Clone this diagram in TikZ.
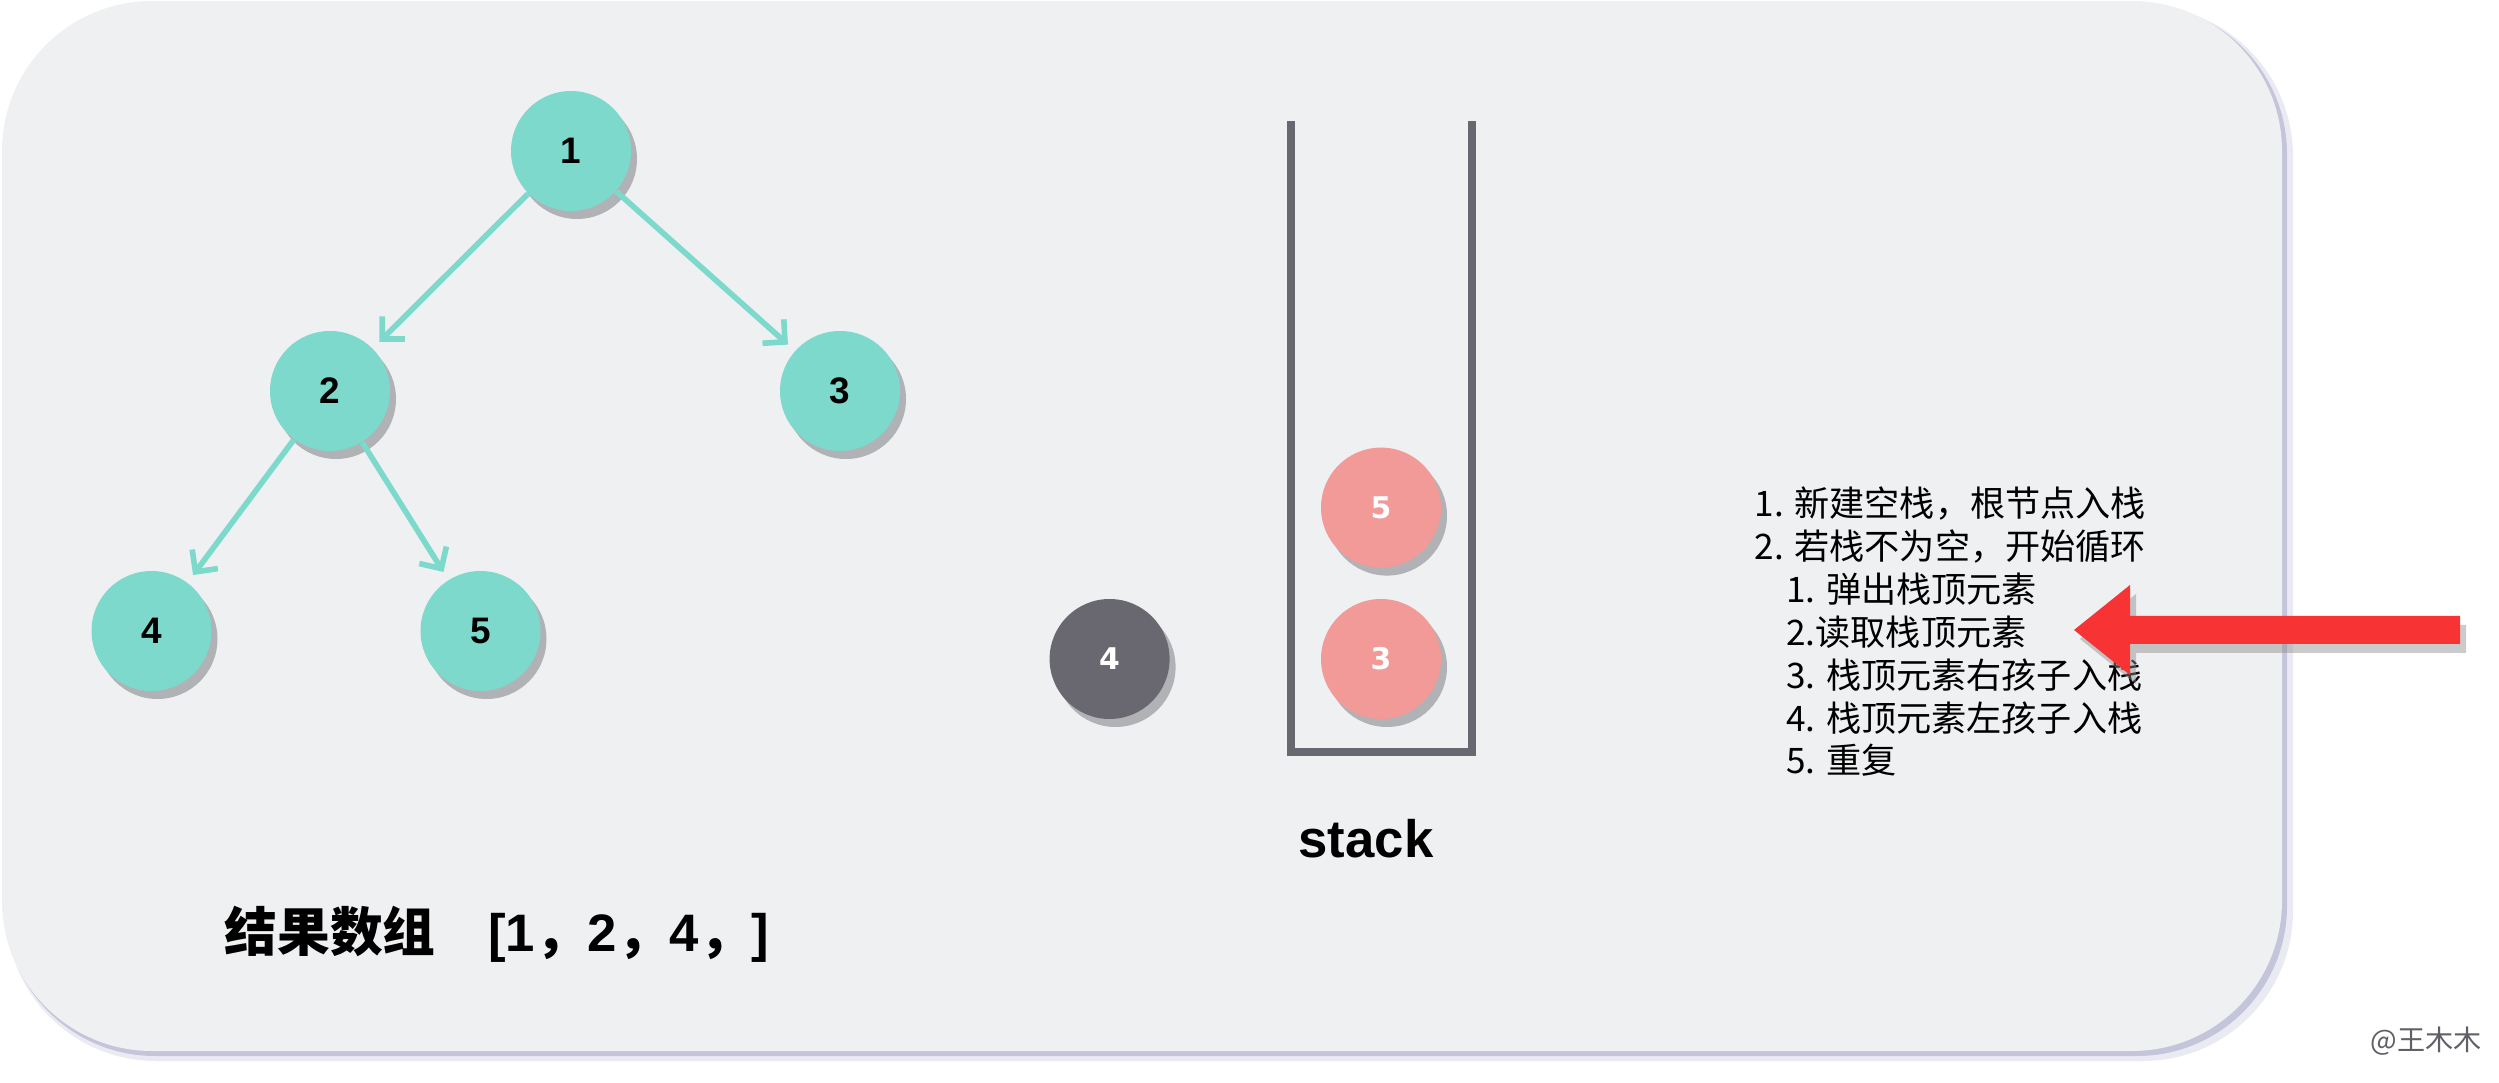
\documentclass[tikz,border=0pt]{standalone}
\usepackage{fontspec}
\setmainfont{Liberation Sans}
\newfontfamily\cjk{Noto Sans CJK SC}
\newfontfamily\ballfont{DejaVu Sans}
\usetikzlibrary{positioning,shadows,arrows.meta}

\definecolor{panelgray}{HTML}{EFF0F2}
\definecolor{panelshade}{HTML}{C4C4DA}
\definecolor{treeteal}{HTML}{7CD9CC}
\definecolor{ballpink}{HTML}{F19A97}
\definecolor{stackgray}{HTML}{696870}
\definecolor{ballshade}{HTML}{B1B2B5}
\definecolor{arrowred}{HTML}{F83333}
\definecolor{markgray}{HTML}{5F5F66}

\begin{document}
\begin{tikzpicture}[
        level distance=2.4cm,
        level 1/.style={sibling distance=5.1cm},
        level 2/.style={sibling distance=3.29cm},
        edge from parent/.style={draw=treeteal, line width=1.6pt, -{Straight Barb[length=1.6mm, width=3.2mm]}, shorten >=0.9mm},
        ball/.style={circle, minimum size=1.2cm, inner sep=0pt, drop shadow={shadow xshift=0.06cm, shadow yshift=-0.08cm, fill=ballshade, opacity=1}},
        treenode/.style={ball, fill=treeteal, font=\bfseries\fontsize{10.5}{12}\selectfont},
        stacknode/.style={ball, fill=ballpink, text=white, font=\ballfont\bfseries\fontsize{8.5}{10}\selectfont},
        popnode/.style={stacknode, fill=stackgray},
        stackline/.style={draw=stackgray, line width=2.3pt},
        steps/.style={align=left, inner sep=0pt, font=\cjk\fontsize{10}{12.2}\selectfont},
        arrowshade/.style={fill=black!45, opacity=0.45}
    ]

        \useasboundingbox (0,0) rectangle (24.99,-10.83);
        \fill[panelshade, opacity=0.35, rounded corners=1.5cm] (0.06,-0.06) rectangle (22.93,-10.61);
        \fill[panelshade, rounded corners=1.5cm] (0.05,-0.04) rectangle (22.87,-10.56);
        \fill[panelgray, rounded corners=1.5cm] (0.02,-0.01) rectangle (22.82,-10.51);

        \node[treenode] (n1) at (5.71,-1.51) {1}
        child {
            node[treenode, xshift=1.4mm] (n2) {2}
            child {
                node[treenode, xshift=-1.4mm] (n4) {4}
            }
            child {
                node[treenode, xshift=-1.4mm] (n5) {5}
            }
        }
        child {
            node[treenode, xshift=1.4mm] (n3) {3}
        };

        \draw[stackline] (12.91,-1.21) -- (12.91,-7.52) -- (14.72,-7.52) -- (14.72,-1.21);
        \node[stacknode] (s3) at (13.81,-6.59) {3};
        \node[stacknode, above=0.3cm of s3] (s5) {5};
        \node[popnode, left=1.5cm of s3] (p4) {4};
        \node[anchor=base, font=\bfseries\fontsize{15}{18}\selectfont] (stacklabel) at (13.66,-8.57) {stack};

        \node[anchor=base west, inner sep=0pt, font=\bfseries\fontsize{15}{18}\selectfont] (result) at (2.24,-9.51) {{\cjk 结果数组}\hspace{1em}[1{\cjk ，}2{\cjk ，}4{\cjk ，}]};

        \node[steps, anchor=base west] (steps) at (17.54,-7.74) {1. 新建空栈，根节点入栈\\
            2. 若栈不为空，开始循环\\
            \hspace*{0.9em}1. 弹出栈顶元素\\
            \hspace*{0.9em}2.读取栈顶元素\\
            \hspace*{0.9em}3. 栈顶元素右孩子入栈\\
            \hspace*{0.9em}4. 栈顶元素左孩子入栈\\
            \hspace*{0.9em}5. 重复};

        \coordinate (tip) at (20.74,-6.30);
        \fill[arrowshade] ([shift={(0.06,-0.09)}]tip) -- ++(0.56,0.45) -- ++(0,-0.31) -- ++(3.30,0) -- ++(0,-0.28) -- ++(-3.30,0) -- ++(0,-0.31) -- cycle;
        \fill[arrowred] (tip) -- ++(0.56,0.45) -- ++(0,-0.31) -- ++(3.30,0) -- ++(0,-0.28) -- ++(-3.30,0) -- ++(0,-0.31) -- cycle;

        \node[anchor=base west, inner sep=0pt, text=markgray, font=\cjk\fontsize{8}{10}\selectfont] (mark) at (23.70,-10.50) {@王木木};

    \end{tikzpicture}
\end{document}
